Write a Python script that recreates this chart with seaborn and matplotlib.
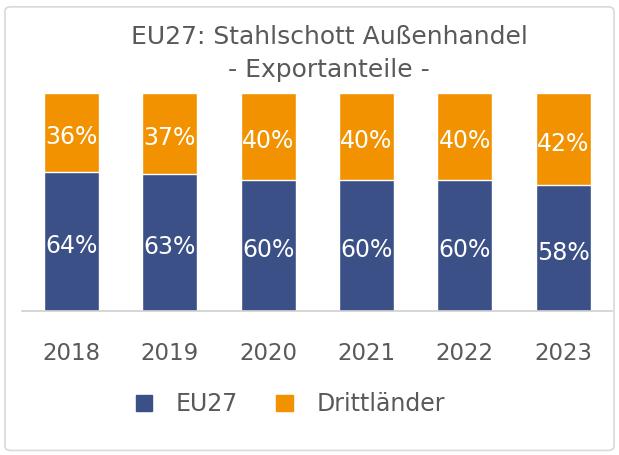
import pandas as pd
import matplotlib.pyplot as plt
import seaborn as sns
from matplotlib.patches import FancyBboxPatch, Patch

years = ["2018", "2019", "2020", "2021", "2022", "2023"]
eu27 = [64, 63, 60, 60, 60, 58]
drittlaender = [36, 37, 40, 40, 40, 42]

blue = "#3a5086"
orange = "#f39200"
grey = "#595959"

sns.set_theme(style="white")
plt.rcParams["font.family"] = ["DejaVu Sans"]

df = pd.DataFrame({"Jahr": years, "EU27": eu27, "Drittländer": drittlaender})
df["Gesamt"] = df["EU27"] + df["Drittländer"]

fig = plt.figure(figsize=(6.19, 4.55), dpi=100)
ax = fig.add_axes([0.036, 0.3165, 0.953, 0.479])

# Gesamt (oben, orange) zuerst, dann EU27 darüber
sns.barplot(data=df, x="Jahr", y="Gesamt", color=orange, width=0.56,
            saturation=1, ax=ax)
sns.barplot(data=df, x="Jahr", y="EU27", color=blue, width=0.56,
            saturation=1, ax=ax)

for i, (a, b) in enumerate(zip(eu27, drittlaender)):
    for y, v in [(a / 2, a), (a + b / 2, b)]:
        ax.annotate(f"{v}%", (i, y), xytext=(0, -3.5), textcoords="offset points",
                    ha="center", va="center", color="white", fontsize=17)

ax.set_ylim(0, 100)
ax.set_xlim(-0.5, 5.5)
ax.set_xlabel("")
ax.set_ylabel("")
ax.set_yticks([])
ax.tick_params(axis="x", labelsize=16.5, colors=grey, pad=22, length=0)
for s in ["top", "right", "left"]:
    ax.spines[s].set_visible(False)
ax.spines["bottom"].set_color("#d0d0d0")
ax.spines["bottom"].set_linewidth(1.2)

fig.text(0.532, 0.918, "EU27: Stahlschott Außenhandel", ha="center", va="center",
         fontsize=18, color=grey)
fig.text(0.532, 0.846, "- Exportanteile -", ha="center", va="center",
         fontsize=18, color=grey)

handles = [Patch(color=blue, label="EU27"), Patch(color=orange, label="Drittländer")]
fig.legend(handles=handles, loc="center", bbox_to_anchor=(0.469, 0.112), ncol=2,
           frameon=False, fontsize=17, labelcolor=grey, handlelength=0.7,
           handleheight=0.7, columnspacing=1.6, handletextpad=1.0)

border = FancyBboxPatch((0.008, 0.01), 0.984, 0.975, boxstyle="round,pad=0,rounding_size=0.01",
                        transform=fig.transFigure, fill=False, edgecolor="#d9d9d9", linewidth=1.2)
fig.patches.append(border)

fig.savefig("out.png", dpi=100)
